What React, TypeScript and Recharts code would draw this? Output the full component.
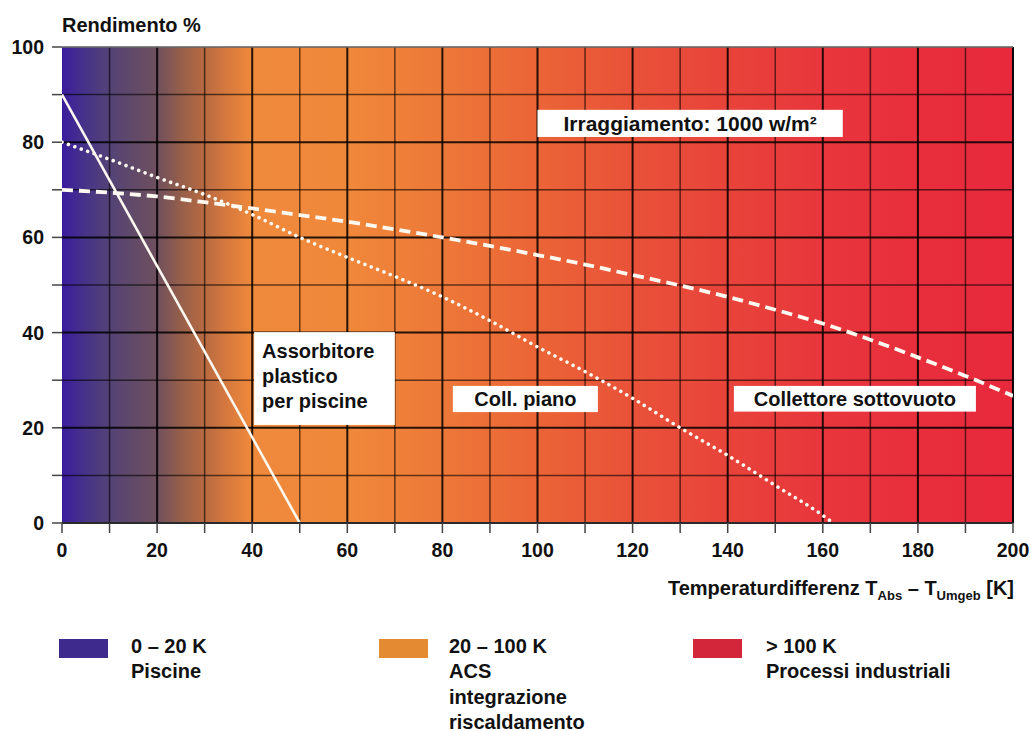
import React from 'react';
import { LineChart, Line, XAxis, YAxis, ReferenceLine, ReferenceArea } from 'recharts';

// ---- data ----
const xTicks = [0, 10, 20, 30, 40, 50, 60, 70, 80, 90, 100, 110, 120, 130, 140, 150, 160, 170, 180, 190, 200];
const yTicks = [0, 10, 20, 30, 40, 50, 60, 70, 80, 90, 100];

const plasticAbsorber = [
  { x: 0, y: 90 },
  { x: 50, y: 0 },
];

const flatCollector = [
  { x: 0, y: 80 }, { x: 10, y: 76.4 }, { x: 20, y: 72.6 }, { x: 30, y: 69.0 }, { x: 40, y: 64.8 },
  { x: 50, y: 60.0 }, { x: 60, y: 55.8 }, { x: 70, y: 51.8 }, { x: 80, y: 47.5 }, { x: 90, y: 42.5 },
  { x: 100, y: 37.0 }, { x: 110, y: 31.8 }, { x: 120, y: 26.2 }, { x: 130, y: 20.0 }, { x: 140, y: 14.2 },
  { x: 150, y: 7.9 }, { x: 160, y: 1.6 }, { x: 162.2, y: 0 },
];

const vacuumCollector = [
  { x: 0, y: 70 }, { x: 10, y: 69.4 }, { x: 20, y: 68.6 }, { x: 30, y: 67.4 }, { x: 40, y: 66.1 },
  { x: 50, y: 64.7 }, { x: 60, y: 63.3 }, { x: 70, y: 61.7 }, { x: 80, y: 60.0 }, { x: 90, y: 58.2 },
  { x: 100, y: 56.3 }, { x: 110, y: 54.3 }, { x: 120, y: 52.1 }, { x: 130, y: 49.9 }, { x: 140, y: 47.5 },
  { x: 150, y: 44.8 }, { x: 160, y: 41.9 }, { x: 170, y: 38.5 }, { x: 180, y: 34.8 }, { x: 190, y: 30.9 },
  { x: 200, y: 26.7 },
];

const annotationTexts = [
  ['Irraggiamento: 1000 w/m²'],
  ['Assorbitore', 'plastico', 'per piscine'],
  ['Coll. piano'],
  ['Collettore sottovuoto'],
];

const legendRanges = ['0 – 20 K', '20 – 100 K', '> 100 K'];
const legendDescriptions = [
  ['Piscine'],
  ['ACS', 'integrazione', 'riscaldamento'],
  ['Processi industriali'],
];

// ---- layout / style ----
const FONT = '"Liberation Sans", Arial, Helvetica, sans-serif';
const annotationBoxes = [
  { x1: 100, x2: 164.2, y1: 81.1, y2: 86.8, align: 'middle', fontSize: 21 },
  { x1: 40.4, x2: 70, y1: 20.6, y2: 40.1, align: 'start', fontSize: 20 },
  { x1: 82.2, x2: 112.7, y1: 23.3, y2: 28.8, align: 'middle', fontSize: 20 },
  { x1: 141.3, x2: 192.2, y1: 23.4, y2: 28.8, align: 'middle', fontSize: 20 },
];
const legendColors = ['#3d2a8c', '#e38a33', '#d4263a'];
const legendLeft = [59, 379, 693];
const legendTextLeft = [131, 449, 766];

const gradientStops: [number, string][] = [
  [0, '#3a1c9e'],
  [0.025, '#473488'],
  [0.05, '#534276'],
  [0.075, '#614a68'],
  [0.1, '#6e4f5e'],
  [0.125, '#965f4a'],
  [0.15, '#b86a42'],
  [0.175, '#d87a3e'],
  [0.2, '#ef893b'],
  [0.3, '#f0883a'],
  [0.4, '#ed7838'],
  [0.5, '#eb6436'],
  [0.6, '#e95239'],
  [0.7, '#e8433a'],
  [0.8, '#e8363c'],
  [0.9, '#e82e3c'],
  [1.0, '#e8293c'],
];

const makeBoxShape = (lines: string[], align: string, fontSize: number) => (props: any) => {
  const { x, y, width, height } = props;
  const tx = align === 'middle' ? x + width / 2 : x + 8;
  const single = lines.length === 1;
  return (
    <g>
      <rect x={x} y={y} width={width} height={height} fill="#ffffff" />
      <text
        textAnchor={align === 'middle' ? 'middle' : 'start'}
        fontFamily={FONT}
        fontWeight={700}
        fontSize={fontSize}
        fill="#111"
      >
        {lines.map((l, i) => (
          <tspan
            key={i}
            x={tx}
            y={single ? y + height / 2 + fontSize * 0.36 : y + 26 + i * 25}
          >
            {l}
          </tspan>
        ))}
      </text>
    </g>
  );
};

const YTitle = (props: any) => {
  const vb = props.viewBox || {};
  return (
    <text x={vb.x + vb.width} y={vb.y - 15} fontFamily={FONT} fontWeight={700} fontSize={20} fill="#111">
      Rendimento %
    </text>
  );
};

const XTitle = (props: any) => {
  const vb = props.viewBox || {};
  return (
    <text
      x={vb.x + vb.width + 1}
      y={595}
      textAnchor="end"
      fontFamily={FONT}
      fontWeight={700}
      fontSize={20}
      fill="#111"
    >
      <tspan>Temperaturdifferenz T</tspan>
      <tspan fontSize={13} dy={5}>Abs</tspan>
      <tspan dy={-5}> – T</tspan>
      <tspan fontSize={13} dy={5}>Umgeb</tspan>
      <tspan dy={-5}> [K]</tspan>
    </text>
  );
};

const tickStyle = { fontSize: 19.5, fontWeight: 700, fill: '#111', fontFamily: FONT };
const fmt = (v: number) => (v % 20 === 0 ? String(v) : '');

export default function App() {
  return (
    <div style={{ position: 'absolute', left: 0, top: 0, width: 1030, height: 731, background: '#fff', fontFamily: FONT }}>
      <LineChart width={1030} height={731} margin={{ top: 47, right: 17, left: 0, bottom: 0 }}>
        <defs>
          <linearGradient id="bgGrad" x1="0" y1="0" x2="1" y2="0">
            {gradientStops.map(([o, c], i) => (
              <stop key={i} offset={o} stopColor={c} />
            ))}
          </linearGradient>
        </defs>
        <XAxis
          type="number"
          dataKey="x"
          domain={[0, 200]}
          ticks={xTicks}
          tickFormatter={fmt}
          interval={0}
          height={208}
          tickSize={10}
          tickMargin={10}
          tick={tickStyle}
          tickLine={{ stroke: '#444', strokeWidth: 1.5 }}
          axisLine={{ stroke: '#2a2a2a', strokeWidth: 2 }}
          allowDataOverflow
          label={<XTitle />}
        />
        <YAxis
          type="number"
          domain={[0, 100]}
          ticks={yTicks}
          tickFormatter={fmt}
          interval={0}
          width={62}
          tickSize={10}
          tickMargin={8}
          tick={tickStyle}
          tickLine={{ stroke: '#444', strokeWidth: 1.5 }}
          axisLine={false}
          allowDataOverflow
          label={<YTitle />}
        />
        <ReferenceArea x1={0} x2={200} y1={0} y2={100} fill="url(#bgGrad)" fillOpacity={1} stroke="none" zIndex={-150} />
        {xTicks.filter((v) => v > 0).map((v) => (
          <ReferenceLine
            key={'gx' + v}
            x={v}
            stroke="#000"
            strokeOpacity={v === 200 ? 0.95 : v % 20 === 0 ? 0.85 : 0.6}
            strokeWidth={v % 20 === 0 ? 2 : 1.5}
            zIndex={-120}
          />
        ))}
        {yTicks.filter((v) => v > 0).map((v) => (
          <ReferenceLine
            key={'gy' + v}
            y={v}
            stroke={v === 100 ? '#666' : '#000'}
            strokeOpacity={v === 100 ? 0.8 : v % 20 === 0 ? 0.85 : 0.6}
            strokeWidth={v % 20 === 0 ? 2 : 1.5}
            zIndex={-120}
          />
        ))}
        <Line
          data={plasticAbsorber}
          dataKey="y"
          type="linear"
          stroke="#fdf8f0"
          strokeWidth={2.6}
          dot={false}
          activeDot={false}
          isAnimationActive={false}
        />
        <Line
          data={flatCollector}
          dataKey="y"
          type="monotone"
          stroke="#fdf8f0"
          strokeWidth={3.6}
          strokeDasharray="0.01 6.8"
          strokeLinecap="round"
          dot={false}
          activeDot={false}
          isAnimationActive={false}
        />
        <Line
          data={vacuumCollector}
          dataKey="y"
          type="monotone"
          stroke="#fdf8f0"
          strokeWidth={3.8}
          strokeDasharray="11 6"
          dot={false}
          activeDot={false}
          isAnimationActive={false}
        />
        {annotationBoxes.map((b, i) => (
          <ReferenceArea
            key={'ann' + i}
            x1={b.x1}
            x2={b.x2}
            y1={b.y1}
            y2={b.y2}
            zIndex={1500}
            shape={makeBoxShape(annotationTexts[i], b.align, b.fontSize)}
          />
        ))}
      </LineChart>
      {legendRanges.map((r, i) => (
        <React.Fragment key={'lg' + i}>
          <div
            style={{
              position: 'absolute',
              left: legendLeft[i],
              top: 638.5,
              width: 49,
              height: 19.5,
              background: legendColors[i],
            }}
          />
          <div
            style={{
              position: 'absolute',
              left: legendTextLeft[i],
              top: 633.5,
              fontFamily: FONT,
              fontWeight: 700,
              fontSize: 20,
              lineHeight: '25.5px',
              color: '#111',
              whiteSpace: 'nowrap',
            }}
          >
            <div>{r}</div>
            {legendDescriptions[i].map((d, j) => (
              <div key={j}>{d}</div>
            ))}
          </div>
        </React.Fragment>
      ))}
    </div>
  );
}
